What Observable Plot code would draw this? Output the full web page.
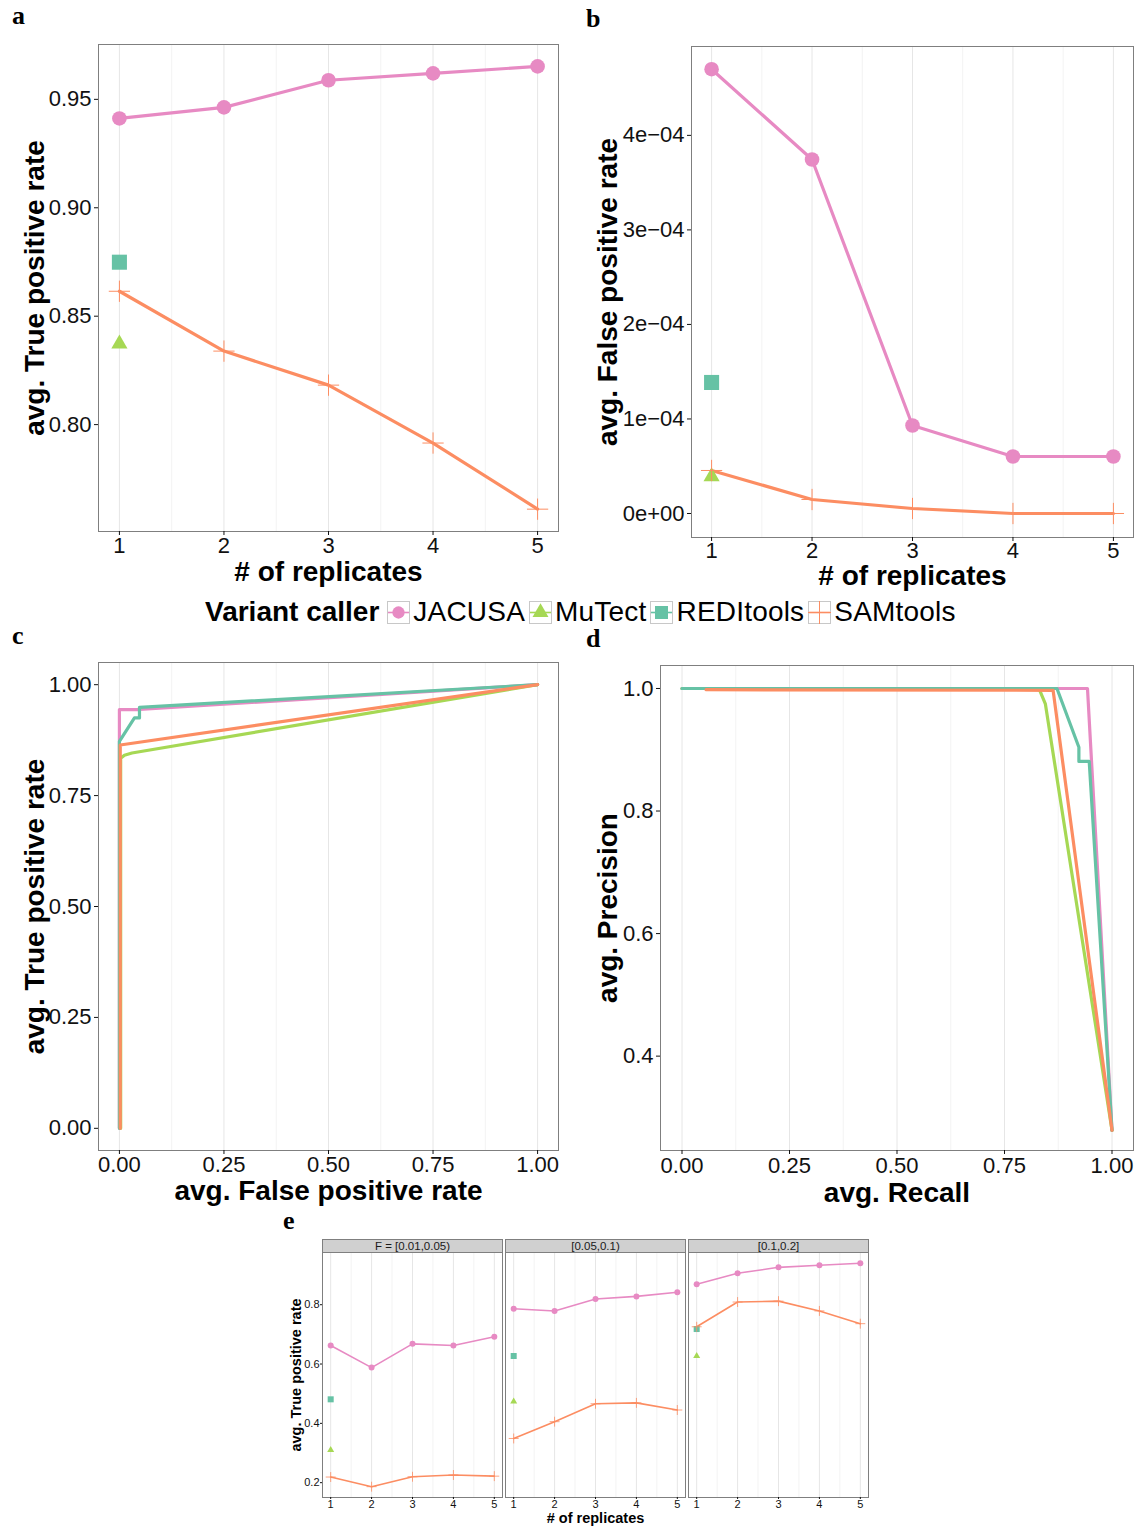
<!DOCTYPE html>
<html><head><meta charset="utf-8">
<script src="https://cdn.jsdelivr.net/npm/d3@7"></script>
<script src="https://cdn.jsdelivr.net/npm/@observablehq/plot@0.6"></script>
<style>
body{margin:0;background:#fff;}
#root{position:relative;width:1135px;height:1527px;overflow:hidden;font-family:"Liberation Sans",Arial,sans-serif;background:#fff;}
#root svg.pl{position:absolute;}
.tag{position:absolute;font-family:"Liberation Serif","Times New Roman",serif;font-weight:bold;font-size:26px;line-height:26px;}
#legend{position:absolute;left:205px;top:596px;height:32px;display:flex;align-items:center;font-size:28px;white-space:nowrap;color:#000;}
#legend b{margin-right:8px;}
#legend svg{margin-right:3px;}
#legend span{margin-right:4px;letter-spacing:0.2px;}
</style></head><body><div id="root"></div>
<script>
// ---------- data ----------
const callers = ["JACUSA", "MuTect", "REDItools", "SAMtools"];
const callerColors = ["#E78AC3", "#A6D854", "#66C2A5", "#FC8D62"];
const replicates = [1, 2, 3, 4, 5];
const minorReplicates = [1.5, 2.5, 3.5, 4.5];

// panel a: avg. true positive rate
const tprJACUSA = [0.9412, 0.9463, 0.9588, 0.9620, 0.9652];
const tprSAMtools = [0.8615, 0.8339, 0.8182, 0.7915, 0.7610];
const tprREDItools = [0.8749];
const tprMuTect = [0.8372];
const tprTicks = [0.80, 0.85, 0.90, 0.95];

// panel b: avg. false positive rate
const fprJACUSA = [4.70e-4, 3.745e-4, 0.931e-4, 0.603e-4, 0.603e-4];
const fprSAMtools = [0.455e-4, 0.148e-4, 0.053e-4, 0.0, 0.0];
const fprREDItools = [1.386e-4];
const fprMuTect = [0.39e-4];
const fprTicks = [0, 1e-4, 2e-4, 3e-4, 4e-4];
const fprTickLabels = ["0e+00", "1e\u221204", "2e\u221204", "3e\u221204", "4e\u221204"];

// panel c: ROC curves
const rocFprJACUSA = [0, 0, 0.048, 1];
const rocTprJACUSA = [0, 0.944, 0.944, 1];
const rocFprMuTect = [0.003, 0.003, 0.012, 0.03, 1];
const rocTprMuTect = [0, 0.834, 0.841, 0.846, 1];
const rocFprREDItools = [0, 0, 0.036, 0.048, 0.048, 1];
const rocTprREDItools = [0, 0.872, 0.925, 0.925, 0.949, 1];
const rocFprSAMtools = [0.002, 0.002, 1];
const rocTprSAMtools = [0, 0.864, 1];
const unitTicks = [0, 0.25, 0.5, 0.75, 1];
const unitMinor = [0.125, 0.375, 0.625, 0.875];

// panel d: precision / recall
const prRecallJACUSA = [0, 0.943, 1.0];
const prPrecJACUSA = [1, 1, 0.279];
const prRecallMuTect = [0, 0.83, 0.845, 1.0];
const prPrecMuTect = [1, 1, 0.975, 0.279];
const prRecallREDItools = [0, 0.872, 0.923, 0.923, 0.947, 1.0];
const prPrecREDItools = [1, 1, 0.904, 0.881, 0.881, 0.279];
const prRecallSAMtools = [0.056, 0.863, 1.0];
const prPrecSAMtools = [0.998, 0.997, 0.279];
const precTicks = [0.4, 0.6, 0.8, 1.0];

// panel e: TPR by allele-frequency bin
const fBins = ["F = [0.01,0.05)", "[0.05,0.1)", "[0.1,0.2]"];
const binJACUSA = [
  [0.6625, 0.588, 0.668, 0.6625, 0.692],
  [0.7865, 0.779, 0.819, 0.828, 0.842],
  [0.8687, 0.906, 0.926, 0.933, 0.940]
];
const binSAMtools = [
  [0.219, 0.1865, 0.220, 0.2259, 0.222],
  [0.349, 0.4056, 0.466, 0.469, 0.445],
  [0.7256, 0.809, 0.812, 0.779, 0.736]
];
const binREDItools = [0.481, 0.627, 0.718];
const binMuTect = [0.310, 0.4734, 0.627];
const binTicks = [0.2, 0.4, 0.6, 0.8];

// ---------- helpers ----------
const FONT = "'Liberation Sans', Arial, sans-serif";
const root = document.getElementById("root");
const color = {domain: callers, range: callerColors};
const rows = (caller, xs, ys, extra = {}) => ys.map((y, i) => ({caller, x: xs[i], y, ...extra}));
const intFmt = d3.format("d");

function place(svg, left, top) {
  svg.classList.add("pl");
  svg.style.left = left + "px";
  svg.style.top = top + "px";
  svg.style.maxWidth = "none";
  root.appendChild(svg);
}

function markers(data, s, extra = {}) {
  const by = c => data.filter(d => d.caller === c);
  return [
    Plot.dot(by("JACUSA"), {x: "x", y: "y", fill: "caller", symbol: "circle", r: s.circle, ...extra}),
    Plot.dot(by("MuTect"), {x: "x", y: "y", fill: "caller", symbol: "triangle", r: s.triangle, ...extra}),
    Plot.dot(by("REDItools"), {x: "x", y: "y", fill: "caller", symbol: "square", r: s.square, ...extra}),
    Plot.dot(by("SAMtools"), {x: "x", y: "y", stroke: "caller", fill: "none", symbol: "plus", r: s.plus, strokeWidth: s.plusW, ...extra})
  ];
}

function grid(major, minor, extra = {}) {
  return [
    Plot.gridX({ticks: minor, stroke: "#F3F3F3", strokeOpacity: 1, ...extra}),
    Plot.gridX({ticks: major, stroke: "#E6E6E6", strokeOpacity: 1, ...extra})
  ];
}

function labels(xlab, ylab, xdy, ydx, size, extraX = {}, extraY = {}) {
  return [
    Plot.text([xlab], {frameAnchor: "bottom", dy: xdy, lineAnchor: "middle", textAnchor: "middle", fontSize: size, fontWeight: "bold", fill: "#000", ...extraX}),
    Plot.text([ylab], {frameAnchor: "left", dx: ydx, rotate: -90, lineAnchor: "middle", textAnchor: "middle", fontSize: size, fontWeight: "bold", fill: "#000", ...extraY})
  ];
}

const bigSym = {circle: 7.3, triangle: 6, square: 8.5, plus: 6.9, plusW: 1};

// ---------- panel a ----------
const aLines = [...rows("JACUSA", replicates, tprJACUSA), ...rows("SAMtools", replicates, tprSAMtools)];
const aPoints = [...aLines, ...rows("REDItools", [1], tprREDItools), ...rows("MuTect", [1], tprMuTect)];
place(Plot.plot({
  width: 570, height: 590, marginLeft: 98, marginRight: 12, marginTop: 44, marginBottom: 59,
  style: {fontFamily: FONT, fontSize: "22px", color: "#000", background: "transparent", overflow: "visible"},
  x: {domain: [0.8, 5.2]}, y: {domain: [0.7507, 0.9753]}, color,
  marks: [
    ...grid(replicates, minorReplicates),
    Plot.frame({stroke: "#7F7F7F"}),
    Plot.axisX({ticks: replicates, tickFormat: intFmt, tickSize: 4, tickPadding: 2, label: null, fontSize: 22, color: "#111"}),
    Plot.axisY({ticks: tprTicks, tickFormat: d3.format(".2f"), tickSize: 4, tickPadding: 3, label: null, fontSize: 22, color: "#111"}),
    Plot.line(aLines, {x: "x", y: "y", z: "caller", stroke: "caller", strokeWidth: 3.2}),
    ...markers(aPoints, bigSym),
    ...labels("# of replicates", "avg. True positive rate", 41, -63, 28)
  ]
}), 0, 0);

// ---------- panel b ----------
const bLines = [...rows("JACUSA", replicates, fprJACUSA), ...rows("SAMtools", replicates, fprSAMtools)];
const bPoints = [...bLines, ...rows("REDItools", [1], fprREDItools), ...rows("MuTect", [1], fprMuTect)];
place(Plot.plot({
  width: 555, height: 595, marginLeft: 111, marginRight: 2, marginTop: 46, marginBottom: 58,
  style: {fontFamily: FONT, fontSize: "22px", color: "#000", background: "transparent", overflow: "visible"},
  x: {domain: [0.8, 5.2]}, y: {domain: [-0.254e-4, 4.94e-4]}, color,
  marks: [
    ...grid(replicates, minorReplicates),
    Plot.frame({stroke: "#7F7F7F"}),
    Plot.axisX({ticks: replicates, tickFormat: intFmt, tickSize: 4, tickPadding: 1, label: null, fontSize: 22, color: "#111"}),
    Plot.axisY({ticks: fprTicks, tickFormat: d => fprTickLabels[fprTicks.findIndex(t => Math.abs(t - d) < 1e-12)], tickSize: 4, tickPadding: 3, label: null, fontSize: 22, color: "#111"}),
    Plot.line(bLines, {x: "x", y: "y", z: "caller", stroke: "caller", strokeWidth: 3.2}),
    ...markers(bPoints, bigSym),
    ...labels("# of replicates", "avg. False positive rate", 39, -83, 28)
  ]
}), 580, 0);

// ---------- panel c ----------
const cLines = [
  ...rows("JACUSA", rocFprJACUSA, rocTprJACUSA),
  ...rows("MuTect", rocFprMuTect, rocTprMuTect),
  ...rows("REDItools", rocFprREDItools, rocTprREDItools),
  ...rows("SAMtools", rocFprSAMtools, rocTprSAMtools)
];
place(Plot.plot({
  width: 570, height: 580, marginLeft: 98, marginRight: 12, marginTop: 32, marginBottom: 60,
  style: {fontFamily: FONT, fontSize: "22px", color: "#000", background: "transparent", overflow: "visible"},
  x: {domain: [-0.05, 1.05]}, y: {domain: [-0.05, 1.05]}, color,
  marks: [
    ...grid(unitTicks, unitMinor),
    Plot.frame({stroke: "#7F7F7F"}),
    Plot.axisX({ticks: unitTicks, tickFormat: d3.format(".2f"), tickSize: 4, tickPadding: 2, label: null, fontSize: 22, color: "#111"}),
    Plot.axisY({ticks: unitTicks, tickFormat: d3.format(".2f"), tickSize: 4, tickPadding: 3, label: null, fontSize: 22, color: "#111"}),
    Plot.line(cLines, {x: "x", y: "y", z: "caller", stroke: "caller", strokeWidth: 3.2}),
    ...labels("avg. False positive rate", "avg. True positive rate", 41, -63, 28)
  ]
}), 0, 630);

// ---------- panel d ----------
const dLines = [
  ...rows("JACUSA", prRecallJACUSA, prPrecJACUSA),
  ...rows("MuTect", prRecallMuTect, prPrecMuTect),
  ...rows("REDItools", prRecallREDItools, prPrecREDItools),
  ...rows("SAMtools", prRecallSAMtools, prPrecSAMtools)
];
place(Plot.plot({
  width: 555, height: 580, marginLeft: 80, marginRight: 2, marginTop: 35, marginBottom: 60,
  style: {fontFamily: FONT, fontSize: "22px", color: "#000", background: "transparent", overflow: "visible"},
  x: {domain: [-0.05, 1.05]}, y: {domain: [0.246, 1.0375]}, color,
  marks: [
    ...grid(unitTicks, unitMinor),
    Plot.frame({stroke: "#7F7F7F"}),
    Plot.axisX({ticks: unitTicks, tickFormat: d3.format(".2f"), tickSize: 4, tickPadding: 3, label: null, fontSize: 22, color: "#111"}),
    Plot.axisY({ticks: precTicks, tickFormat: d3.format(".1f"), tickSize: 4, tickPadding: 3, label: null, fontSize: 22, color: "#111"}),
    Plot.line(dLines, {x: "x", y: "y", z: "caller", stroke: "caller", strokeWidth: 3.2}),
    ...labels("avg. Recall", "avg. Precision", 43, -52, 28)
  ]
}), 580, 630);

// ---------- panel e ----------
const eLines = fBins.flatMap((bin, k) => [
  ...rows("JACUSA", replicates, binJACUSA[k], {bin}),
  ...rows("SAMtools", replicates, binSAMtools[k], {bin})
]);
const ePoints = [
  ...eLines,
  ...fBins.flatMap((bin, k) => [
    ...rows("REDItools", [1], [binREDItools[k]], {bin}),
    ...rows("MuTect", [1], [binMuTect[k]], {bin})
  ])
];
const smallSym = {circle: 3, triangle: 2.6, square: 3.4, plus: 3.3, plusW: 0.8};
place(Plot.plot({
  width: 620, height: 302, marginLeft: 51, marginRight: 21, marginTop: 27, marginBottom: 30,
  style: {fontFamily: FONT, fontSize: "11px", color: "#000", background: "transparent", overflow: "visible"},
  fx: {domain: fBins, paddingInner: 0.016, paddingOuter: 0, axis: null},
  x: {domain: [0.8, 5.2]}, y: {domain: [0.150, 0.976]}, color,
  marks: [
    ...grid(replicates, minorReplicates),
    Plot.frame({stroke: "#7F7F7F"}),
    Plot.frame({fill: "#D0D0D0", stroke: "#7F7F7F", insetTop: -13, insetBottom: 245}),
    Plot.text(fBins, {fx: d => d, frameAnchor: "top", dy: -6.5, lineAnchor: "middle", textAnchor: "middle", fontSize: 11.5, fill: "#1a1a1a"}),
    Plot.axisX({ticks: replicates, tickFormat: intFmt, tickSize: 2, tickPadding: 1, label: null, fontSize: 11, color: "#111"}),
    Plot.axisY({ticks: binTicks, tickFormat: d3.format(".1f"), tickSize: 2, tickPadding: 1, label: null, fontSize: 11, color: "#111"}),
    Plot.line(eLines, {fx: "bin", x: "x", y: "y", z: "caller", stroke: "caller", strokeWidth: 1.6}),
    ...markers(ePoints, smallSym, {fx: "bin"}),
    ...labels("# of replicates", "avg. True positive rate", 21, -26, 14.5, {fx: () => fBins[1]}, {fx: () => fBins[0]})
  ]
}), 270, 1225);

// ---------- legend ----------
const legend = document.createElement("div");
legend.id = "legend";
legend.innerHTML = "<b>Variant caller</b>";
const keySymbols = [
  {type: d3.symbolCircle, size: 120, filled: true},
  {type: d3.symbolTriangle, size: 110, filled: true},
  {type: d3.symbolSquare, size: 170, filled: true},
  {type: d3.symbolPlus, size: 520, filled: false}
];
callers.forEach((c, i) => {
  const k = keySymbols[i];
  const path = d3.symbol(k.type, k.size)();
  const col = callerColors[i];
  const key = `<svg width="23" height="23" viewBox="0 0 23 23">
    <rect x="0.5" y="0.5" width="22" height="22" fill="#fff" stroke="#C8C8C8"/>
    <line x1="1" x2="22" y1="11.5" y2="11.5" stroke="${col}" stroke-width="1.6"/>
    <path transform="translate(11.5,11.5)" d="${path}" ${k.filled ? `fill="${col}"` : `fill="none" stroke="${col}" stroke-width="1"`}/>
  </svg>`;
  legend.insertAdjacentHTML("beforeend", key + `<span>${c}</span>`);
});
root.appendChild(legend);

// ---------- panel tags ----------
[["a", 12, 3], ["b", 586, 6], ["c", 12, 623], ["d", 586, 626], ["e", 283, 1208]].forEach(([t, l, tp]) => {
  const d = document.createElement("div");
  d.className = "tag";
  d.textContent = t;
  d.style.left = l + "px";
  d.style.top = tp + "px";
  root.appendChild(d);
});
</script></body></html>
